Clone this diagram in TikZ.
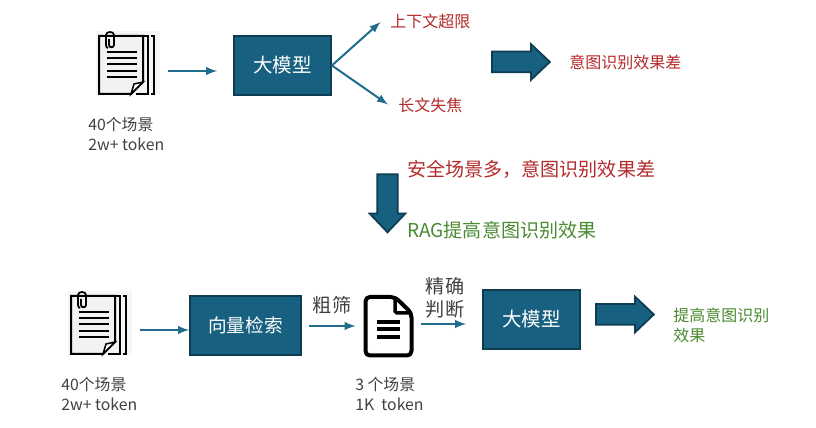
\documentclass[tikz,border=0pt]{standalone}
\usepackage{fontspec}
\setmainfont{Noto Sans CJK SC}
\usetikzlibrary{shapes.arrows}
\definecolor{boxblue}{HTML}{17607F}
\definecolor{boxedge}{HTML}{0E3C52}
\definecolor{linkblue}{HTML}{1F6C8E}
\definecolor{badred}{HTML}{B4292A}
\definecolor{goodgreen}{HTML}{4A8A30}
\definecolor{notegray}{HTML}{404040}
\tikzset{
  modelbox/.style={draw=boxedge,fill=boxblue,line width=0.35mm,text=white,inner sep=0pt,font=\fontsize{11.1pt}{12pt}\selectfont},
  fatarrow/.style={single arrow,anchor=tail,draw=boxedge,fill=boxblue,line width=0.35mm,inner xsep=0pt,inner ysep=0.19cm,minimum height=1.16cm,minimum width=0.66cm,single arrow head extend=0.15cm,single arrow tip angle=87,single arrow head indent=0cm},
  link/.style={-latex,line width=0.4mm,color=linkblue},
  note/.style={anchor=west,inner sep=0pt,align=left,text=notegray,font=\fontsize{9pt}{11.3pt}\selectfont},
  badsmall/.style={anchor=west,inner sep=0pt,text=badred,font=\fontsize{9.1pt}{11pt}\selectfont},
  badbig/.style={anchor=west,inner sep=0pt,text=badred,font=\fontsize{10.85pt}{12pt}\selectfont},
  slot/.style={inner sep=0pt,minimum width=1.6cm,minimum height=1.2cm},
  docstack/.pic={
    \fill[gray!8] (-2,-1) rectangle (62,63);
    \draw[line width=0.4mm,fill=gray!10] (1,4) -- (45,4) -- (45,50) -- (33,62) -- (1,62) -- cycle;
    \draw[line width=0.3mm,fill=white] (45,50) -- (36,52) -- (33,62) -- cycle;
    \draw[line width=0.4mm] (45,4) -- (50,4) -- (50,62) -- (38,62);
    \draw[line width=0.4mm] (53,4) -- (56,4) -- (56,62) -- (53,62);
    \foreach \y in {20,26,32,39,45}
      \draw[line width=0.4mm] (9,\y) -- (39,\y);
    \draw[line width=0.35mm] (11,7) -- (11,13) .. controls (11,16) and (16,16) .. (16,13) -- (16,3) .. controls (16,-1) and (8,-1) .. (8,3) -- (8,13) .. controls (8,15) and (9,16) .. (10,16);
  }
}
\begin{document}
\begin{tikzpicture}[x=0.02cm,y=-0.02cm]
  \useasboundingbox (0,0) rectangle (816,428);

  % upper row
  \pic at (98,32) {docstack};
  \node[slot] (docA) at (128,71) {};
  \node[note] (docAnote) at (88,134) {40个场景\\2w+ token};
  \node[modelbox,minimum width=1.94cm,minimum height=1.18cm] (modelA) at (282.5,65.5) {大模型};
  \node[badsmall] (overflow) at (390,21) {上下文超限};
  \node[badsmall] (blur) at (398,105) {长文失焦};
  \coordinate (tipUp) at (380.5,22);
  \coordinate (tipDown) at (388,104.5);
  \node[fatarrow] (fatA) at (491,62) {};
  \node[badsmall] (poorA) at (569,62) {意图识别效果差};

  \draw[link,shorten >=0.32cm] (docA.east) -- (modelA.west |- docA.east);
  \draw[link] (modelA.east) -- (tipUp);
  \draw[link] (modelA.east) -- (tipDown);

  % middle
  \node[fatarrow,rotate=-90] (fatDown) at (387.5,173.5) {};
  \node[badbig] (poorMid) at (407,169) {安全场景多，意图识别效果差};
  \node[badbig,text=goodgreen] (ragMid) at (407,230) {RAG提高意图识别效果};

  % lower row
  \pic at (70,292) {docstack};
  \node[slot] (docB) at (100,330) {};
  \node[note] (docBnote) at (61,394) {40个场景\\2w+ token};
  \node[modelbox,minimum width=2.22cm,minimum height=1.18cm,font=\fontsize{10.6pt}{12pt}\selectfont] (search) at (245.5,325.5) {向量检索};
  \node[inner sep=0pt,minimum width=1.1cm,minimum height=1.24cm] (docC) at (388.5,326) {};
  \draw[line width=0.8mm,rounded corners=2.5pt,line join=round] (380,297) -- (395,297) -- (411.5,313) -- (411.5,355.5) -- (365.5,355.5) -- (365.5,297) -- cycle;
  \draw[line width=0.7mm,rounded corners=1pt] (395,297) -- (395,313) -- (411.5,313);
  \foreach \y in {322,329,337}
    \draw[line width=0.65mm] (377,\y) -- (400,\y);
  \node[note] (docCnote) at (355,394) {3 个场景\\1K\ \ token};
  \node[modelbox,minimum width=1.94cm,minimum height=1.18cm] (modelB) at (531.5,319.5) {大模型};
  \node[fatarrow] (fatB) at (595,314.5) {};
  \node[anchor=west,inner sep=0pt,align=left,text=goodgreen,font=\fontsize{9.1pt}{11.3pt}\selectfont] (goodB) at (673,325) {提高意图识别\\效果};
  \node[anchor=center,inner sep=0pt,text=notegray,font=\fontsize{10.9pt}{12pt}\selectfont] (coarse) at (332,305) {粗筛};
  \node[anchor=center,inner sep=0pt,align=center,text=notegray,font=\fontsize{10.9pt}{13pt}\selectfont] (fine) at (445,297.5) {精确\\判断};

  \draw[link] (docB.east) -- (search.west |- docB.east);
  \draw[link,shorten <=0.14cm,shorten >=0.1cm] (search.east |- docC.west) -- (docC.west);
  \draw[link,shorten <=0.1cm,shorten >=0.32cm] (docC.east |- 0,324) -- (modelB.west |- 0,324);
\end{tikzpicture}
\end{document}
